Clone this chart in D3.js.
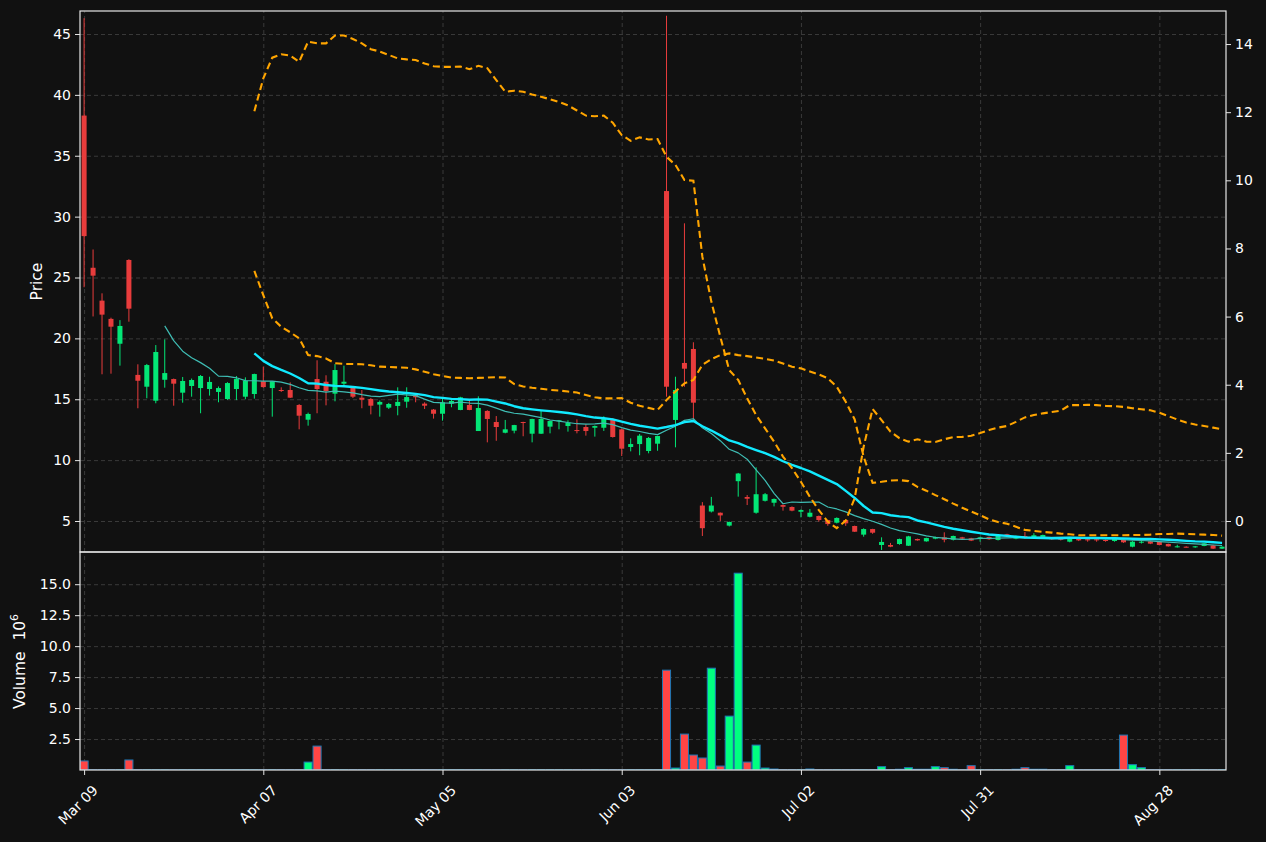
<!DOCTYPE html>
<html><head><meta charset="utf-8">
<script src="https://cdn.jsdelivr.net/npm/d3@7"></script>
<style>
body{margin:0;background:#111111;}
svg{display:block;}
text{font-family:"DejaVu Sans",sans-serif;}
</style>
</head><body>
<svg id="chart" width="1266" height="842"></svg>
<script>
// ---------------- data ----------------
const tickLabels = ["Mar 09","Apr 07","May 05","Jun 03","Jul 02","Jul 31","Aug 28"];
const tickIndex  = [0,20,40,60,80,100,120];

const openP = [38.3,25.8,23.1,21.6,19.56,26.44,17.0,16.03,14.88,16.6,
16.66,15.54,16.09,15.92,15.84,15.6,15.02,15.84,15.21,15.43,
16.48,15.92,15.76,15.76,14.53,13.32,16.66,16.44,15.46,16.28,
15.95,15.13,15.02,14.56,14.31,14.45,14.8,15.37,14.64,14.15,
13.81,14.64,14.12,14.53,12.39,14.04,13.13,12.25,12.42,13.13,
12.17,12.17,12.75,13.19,12.8,12.47,12.72,12.66,12.66,13.3,
12.53,11.08,11.32,10.75,11.35,32.1,13.3,17.98,19.13,6.27,
5.78,5.68,4.62,8.27,6.97,5.68,6.66,6.5,6.31,6.15,
5.76,5.35,5.41,5.08,4.86,5.08,4.59,3.88,4.34,3.03,
3.03,3.11,2.97,3.52,3.33,3.55,3.66,3.46,3.66,3.58,
3.52,3.69,3.44,3.91,3.55,3.77,3.63,3.66,3.58,3.58,
3.3,3.55,3.5,3.5,3.44,3.36,3.44,2.89,3.25,3.33,
3.28,3.11,2.86,2.89,2.84,2.95,3.0,2.73];
const highP = [46.3,27.3,23.7,21.7,21.5,26.5,17.87,17.9,19.45,19.92,
16.7,16.83,16.7,16.99,16.85,16.05,16.4,16.91,16.8,17.1,
17.67,16.5,15.98,16.39,14.6,13.9,18.2,16.97,17.89,17.76,
16.0,15.76,15.1,14.9,14.7,15.98,15.98,15.4,14.75,14.2,
15.02,15.05,15.2,14.94,15.24,14.1,13.62,13.3,12.9,13.15,
13.4,14.12,13.25,13.3,13.27,13.35,12.95,12.85,13.6,13.45,
12.6,11.79,12.15,11.9,12.0,46.5,16.85,29.45,19.68,6.55,
6.98,5.7,4.95,8.95,7.13,9.41,7.3,6.85,6.35,6.2,
5.95,5.98,5.45,5.1,5.3,5.1,4.62,4.4,4.36,3.66,
3.2,3.55,3.78,3.55,3.63,3.72,4.07,3.8,3.7,3.62,
3.7,3.72,3.86,3.95,3.8,4.1,4.0,3.88,3.6,3.62,
3.6,3.6,3.52,3.52,3.47,3.55,3.5,3.35,3.4,3.36,
3.3,3.14,3.05,2.92,2.95,3.2,3.05,2.92];
const lowP = [24.2,21.8,17.05,17.1,17.76,21.37,14.26,15.08,14.67,15.95,
14.47,14.72,15.21,13.85,15.3,14.75,14.95,14.93,15.0,15.05,
15.95,13.57,15.6,15.1,12.53,12.83,13.85,14.5,14.83,16.17,
15.1,14.26,13.76,13.57,14.2,13.68,14.3,14.75,14.2,13.41,
13.24,14.34,14.1,14.1,12.39,11.46,11.59,12.2,12.2,11.96,
11.46,12.15,12.2,12.53,12.34,12.2,12.01,11.93,12.4,11.85,
10.34,10.72,10.4,10.56,10.77,15.21,11.05,16.03,13.3,3.77,
5.7,5.0,4.55,7.0,6.31,5.6,6.6,6.2,5.85,5.8,
5.3,5.3,4.95,4.61,4.8,4.6,4.1,3.71,3.95,2.62,
2.85,3.05,2.95,3.38,3.3,3.5,3.25,3.4,3.5,3.35,
3.3,3.45,3.4,3.7,3.5,3.55,3.6,3.6,3.45,3.4,
3.25,3.35,3.3,3.3,3.3,3.3,3.2,2.84,3.15,3.1,
3.0,2.9,2.82,2.82,2.8,2.93,2.7,2.7];
const closeP = [28.4,25.15,21.95,20.96,21.02,22.44,16.52,17.81,18.88,17.15,
16.28,16.5,16.58,16.91,16.42,15.92,16.33,16.66,16.53,17.07,
16.0,16.48,15.68,15.13,13.65,13.79,15.84,15.68,17.4,16.44,
15.21,14.96,14.47,14.78,14.61,14.78,15.18,15.16,14.47,13.81,
14.75,14.86,15.16,14.12,14.28,13.38,12.72,12.53,12.88,13.07,
13.38,13.38,13.21,13.27,13.07,12.39,12.39,12.8,13.4,11.9,
10.94,11.32,12.01,11.82,11.98,16.03,15.76,17.51,14.72,4.41,
6.27,5.46,4.92,8.9,6.83,7.2,7.2,6.81,6.17,5.85,
5.9,5.68,5.08,4.75,5.25,4.81,4.12,4.34,4.04,3.28,
2.89,3.52,3.74,3.41,3.6,3.69,3.46,3.77,3.55,3.39,
3.66,3.5,3.83,3.74,3.77,3.6,3.83,3.85,3.5,3.46,
3.58,3.41,3.41,3.41,3.36,3.52,3.25,3.3,3.3,3.14,
3.03,2.92,2.92,2.84,2.92,3.17,2.73,2.89];
// volume in millions
const volumeM = [0.73,0.02,0.02,0.02,0.02,0.81,0.02,0.02,0.02,0.02,
0.02,0.02,0.02,0.02,0.02,0.02,0.02,0.02,0.02,0.02,
0.02,0.02,0.02,0.02,0.02,0.64,1.93,0.02,0.02,0.02,
0.02,0.02,0.02,0.02,0.02,0.02,0.02,0.02,0.02,0.02,
0.02,0.02,0.02,0.02,0.02,0.02,0.02,0.02,0.02,0.02,
0.02,0.02,0.02,0.02,0.02,0.02,0.02,0.02,0.02,0.02,
0.02,0.02,0.02,0.02,0.02,8.06,0.16,2.9,1.21,0.97,
8.22,0.32,4.35,15.89,0.64,2.01,0.16,0.08,0.02,0.02,
0.02,0.08,0.02,0.02,0.02,0.02,0.02,0.02,0.02,0.27,
0.02,0.06,0.19,0.06,0.06,0.27,0.19,0.06,0.02,0.35,
0.02,0.02,0.02,0.02,0.06,0.19,0.06,0.06,0.02,0.02,
0.35,0.02,0.02,0.02,0.02,0.02,2.82,0.43,0.19,0.02,
0.02,0.02,0.02,0.02,0.02,0.02,0.02,0.02];
// secondary-axis dashed lines (start at index 19)
const lineA = [null,null,null,null,null,null,null,null,null,null,
null,null,null,null,null,null,null,null,null,12.03,
12.99,13.6,13.7,13.66,13.48,14.07,14.02,14.02,14.25,14.25,
14.15,14.02,13.85,13.78,13.68,13.58,13.55,13.53,13.43,13.35,
13.33,13.33,13.34,13.26,13.36,13.29,12.94,12.6,12.63,12.6,
12.52,12.45,12.38,12.3,12.2,12.05,11.9,11.88,11.9,11.69,
11.33,11.16,11.26,11.2,11.21,10.69,10.45,10.01,9.99,7.76,
6.44,5.41,4.43,4.14,3.6,3.11,2.72,2.33,1.89,1.55,
1.15,0.71,0.32,-0.02,-0.21,0.01,0.67,2.18,3.29,2.96,
2.62,2.43,2.33,2.4,2.33,2.32,2.4,2.46,2.47,2.5,
2.58,2.67,2.74,2.79,2.91,3.04,3.11,3.16,3.2,3.24,
3.4,3.4,3.41,3.4,3.38,3.37,3.35,3.31,3.28,3.25,
3.18,3.08,2.98,2.89,2.83,2.79,2.74,2.69];
const lineB = [null,null,null,null,null,null,null,null,null,null,
null,null,null,null,null,null,null,null,null,7.34,
6.63,5.95,5.7,5.54,5.36,4.87,4.84,4.77,4.63,4.61,
4.61,4.6,4.57,4.53,4.52,4.51,4.5,4.45,4.38,4.31,
4.26,4.21,4.2,4.19,4.2,4.21,4.22,4.21,4.02,3.95,
3.91,3.88,3.85,3.83,3.8,3.77,3.7,3.63,3.6,3.6,
3.61,3.47,3.38,3.32,3.26,3.55,3.8,4.04,4.14,4.58,
4.75,4.87,4.92,4.87,4.84,4.8,4.76,4.71,4.62,4.53,
4.48,4.39,4.3,4.19,3.94,3.5,2.98,1.89,1.12,1.15,
1.19,1.2,1.17,1.0,0.89,0.76,0.64,0.51,0.39,0.28,
0.17,0.05,-0.03,-0.08,-0.17,-0.26,-0.29,-0.32,-0.34,-0.37,
-0.39,-0.42,-0.42,-0.42,-0.42,-0.42,-0.42,-0.41,-0.41,-0.4,
-0.38,-0.38,-0.37,-0.38,-0.39,-0.4,-0.41,-0.43];
const priceTicks = [5,10,15,20,25,30,35,40,45];
const rightTicks = [0,2,4,6,8,10,12,14];
const volTicks = [2.5,5.0,7.5,10.0,12.5,15.0];
const mavPeriods = [10,20];

// ---------------- styles ----------------
const BG = "#111111", FG = "#ffffff", SPINE = "#e6e6e6", GRID = "#3a3a3a";
const UP = "#03e676", DOWN = "#e83c3c";
const VUP = "#00ff80", VDOWN = "#ff4545", VEDGE = "#1f77b4";
const MAVC = ["#3fbdb4", "#11eaff"], MAVW = [1.2, 2.4];
const ORANGE = "#ffa500";

const L = 80, R = 1226, PT = 11, PB = 552, VT = 553, VB = 770;
const n = closeP.length;
const data = d3.range(n).map(i => ({i, o: openP[i], h: highP[i], l: lowP[i], c: closeP[i], v: volumeM[i]}));

const svg = d3.select("#chart");
svg.append("rect").attr("width", 1266).attr("height", 842).attr("fill", BG);

const x = d3.scaleLinear().domain([-0.458, 127.44]).range([L, R]);
const yP = d3.scaleLinear().domain([2.454, 46.889]).range([PB, PT]);
const yR = d3.scaleLinear().domain([-0.91, 14.97]).range([PB, PT]);
const yV = d3.scaleLinear().domain([0, 17.52]).range([VB, VT]);

const defs = svg.append("defs");
defs.append("clipPath").attr("id", "clipP").append("rect").attr("x", L).attr("y", PT).attr("width", R - L).attr("height", PB - PT);
defs.append("clipPath").attr("id", "clipV").append("rect").attr("x", L).attr("y", VT).attr("width", R - L).attr("height", VB - VT);

// ---- grids ----
function styleGrid(g) {
  g.select(".domain").remove();
  g.selectAll("text").remove();
  g.selectAll("line").attr("stroke", GRID).attr("stroke-width", 1).attr("stroke-dasharray", "4,3");
}
svg.append("g").attr("transform", `translate(${L},0)`)
  .call(d3.axisLeft(yP).tickValues(priceTicks).tickSize(-(R - L))).call(styleGrid);
svg.append("g").attr("transform", `translate(0,${PB})`)
  .call(d3.axisBottom(x).tickValues(tickIndex).tickSize(-(PB - PT))).call(styleGrid);
svg.append("g").attr("transform", `translate(${L},0)`)
  .call(d3.axisLeft(yV).tickValues(volTicks).tickSize(-(R - L))).call(styleGrid);
svg.append("g").attr("transform", `translate(0,${VB})`)
  .call(d3.axisBottom(x).tickValues(tickIndex).tickSize(-(VB - VT))).call(styleGrid);

// ---- candles ----
const cg = svg.append("g").attr("clip-path", "url(#clipP)");
const bw = (x(1) - x(0)) * 0.56;
cg.selectAll("line.wick").data(data).join("line")
  .attr("x1", d => x(d.i)).attr("x2", d => x(d.i))
  .attr("y1", d => yP(d.h)).attr("y2", d => yP(d.l))
  .attr("stroke", d => d.c >= d.o ? UP : DOWN).attr("stroke-width", 1);
cg.selectAll("rect.body").data(data).join("rect")
  .attr("x", d => x(d.i) - bw / 2).attr("width", bw)
  .attr("y", d => yP(Math.max(d.o, d.c)))
  .attr("height", d => Math.max(1, Math.abs(yP(d.o) - yP(d.c))))
  .attr("fill", d => d.c >= d.o ? UP : DOWN);

// ---- moving averages ----
mavPeriods.forEach((p, k) => {
  const pts = [];
  for (let i = p - 1; i < n; i++) {
    pts.push({i, v: d3.mean(closeP.slice(i - p + 1, i + 1))});
  }
  cg.append("path").datum(pts)
    .attr("d", d3.line().x(d => x(d.i)).y(d => yP(d.v)))
    .attr("fill", "none").attr("stroke", MAVC[k]).attr("stroke-width", MAVW[k])
    .attr("stroke-linejoin", "round");
});

// ---- secondary dashed lines ----
[lineA, lineB].forEach(arr => {
  const pts = arr.map((v, i) => ({i, v})).filter(d => d.v !== null);
  cg.append("path").datum(pts)
    .attr("d", d3.line().x(d => x(d.i)).y(d => yR(d.v)))
    .attr("fill", "none").attr("stroke", ORANGE).attr("stroke-width", 2.1)
    .attr("stroke-dasharray", "7,4");
});

// ---- volume bars ----
const vg = svg.append("g").attr("clip-path", "url(#clipV)");
const vw = (x(1) - x(0)) * 0.9;
vg.selectAll("rect.vol").data(data).join("rect")
  .attr("x", d => x(d.i) - vw / 2).attr("width", vw)
  .attr("y", d => yV(d.v)).attr("height", d => yV(0) - yV(d.v))
  .attr("fill", d => d.c >= d.o ? VUP : VDOWN)
  .attr("stroke", VEDGE).attr("stroke-width", 1);

// ---- frames ----
svg.append("rect").attr("x", L).attr("y", PT).attr("width", R - L).attr("height", PB - PT)
  .attr("fill", "none").attr("stroke", SPINE).attr("stroke-width", 1.2);
svg.append("rect").attr("x", L).attr("y", PB).attr("width", R - L).attr("height", VB - PB)
  .attr("fill", "none").attr("stroke", SPINE).attr("stroke-width", 1.2);

// ---- axes ----
function styleAxis(g) {
  g.select(".domain").remove();
  g.selectAll("line").attr("stroke", SPINE);
  g.selectAll("text").attr("fill", FG).style("font-size", "14px").style("font-family", "DejaVu Sans");
}
svg.append("g").attr("transform", `translate(${L},0)`)
  .call(d3.axisLeft(yP).tickValues(priceTicks).tickSize(5).tickPadding(4).tickFormat(d3.format("d"))).call(styleAxis);
svg.append("g").attr("transform", `translate(${R},0)`)
  .call(d3.axisRight(yR).tickValues(rightTicks).tickSize(5).tickPadding(4).tickFormat(d3.format("d"))).call(styleAxis);
svg.append("g").attr("transform", `translate(${L},0)`)
  .call(d3.axisLeft(yV).tickValues(volTicks).tickSize(5).tickPadding(4).tickFormat(d3.format(".1f"))).call(styleAxis);
const xa = svg.append("g").attr("transform", `translate(0,${VB})`)
  .call(d3.axisBottom(x).tickValues(tickIndex).tickSize(5).tickPadding(3).tickFormat((d, k) => tickLabels[k])).call(styleAxis);
xa.selectAll("text")
  .attr("text-anchor", "end")
  .attr("dy", "0.35em")
  .attr("transform", "translate(5,12) rotate(-45)");

// ---- labels ----
svg.append("text").attr("transform", `translate(42,${(PT + PB) / 2}) rotate(-90)`)
  .attr("text-anchor", "middle").attr("fill", FG).style("font-size", "15.5px").text("Price");
const vl = svg.append("text").attr("transform", `translate(25,${(VT + VB) / 2}) rotate(-90)`)
  .attr("text-anchor", "middle").attr("fill", FG).style("font-size", "15.5px");
vl.append("tspan").text("Volume\u2002\u200910");
vl.append("tspan").attr("dy", "-7").style("font-size", "11px").text("6");
</script>
</body></html>
